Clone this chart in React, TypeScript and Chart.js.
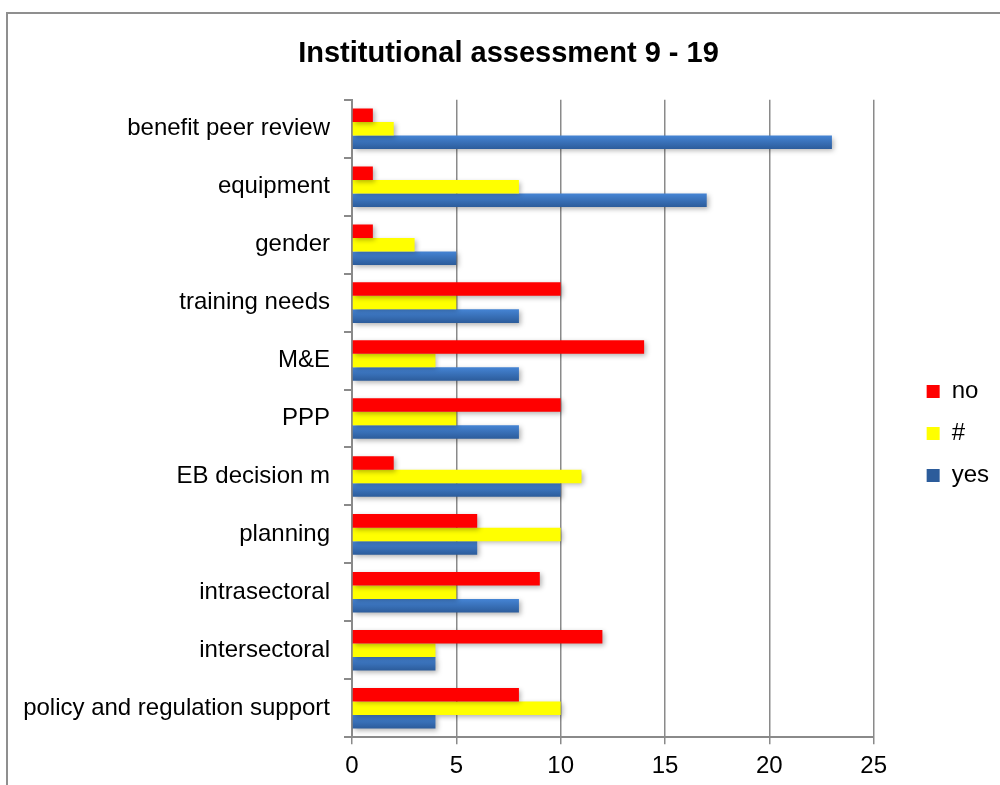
import React, { useEffect, useRef } from 'react';
import { Chart, registerables } from 'chart.js';

Chart.register(...registerables);

const TITLE = 'Institutional assessment 9 - 19';
const CATEGORIES = [
  'benefit peer review',
  'equipment',
  'gender',
  'training needs',
  'M&E',
  'PPP',
  'EB decision m',
  'planning',
  'intrasectoral',
  'intersectoral',
  'policy and regulation support',
];
const SERIES_NAMES = ['no', '#', 'yes'];
const NO_VALUES = [1, 1, 1, 10, 14, 10, 2, 6, 9, 12, 8];
const HASH_VALUES = [2, 8, 3, 5, 4, 5, 11, 10, 5, 4, 10];
const YES_VALUES = [23, 17, 5, 8, 8, 8, 10, 6, 8, 4, 4];
const X_MIN = 0;
const X_MAX = 25;
const X_STEP = 5;

const FONT = "'Liberation Sans', Arial, Helvetica, sans-serif";
const GRID = '#8a8a8a';
const CAT_PCT = 0.7;
const Y_AXIS_WIDTH = 329;
const LEG_EXTRA = 30;
const LEG_DX = 35;
const LEG_DY = 32;

export default function App() {
  const ref = useRef<HTMLCanvasElement>(null);

  useEffect(() => {
    const canvas = ref.current;
    if (!canvas) return;

    const blueFill = (c: any) => {
      const chart = c.chart;
      if (c.type !== 'data' || !chart.chartArea || !chart.scales.y) return '#3a70b8';
      const ys = chart.scales.y;
      const center = ys.getPixelForValue(c.dataIndex);
      const cat = ys.height / CATEGORIES.length;
      const group = cat * CAT_PCT;
      const bh = group / 3;
      const top = center - group / 2 + bh * c.datasetIndex;
      const g = chart.ctx.createLinearGradient(0, top, 0, top + bh);
      g.addColorStop(0, '#4584d4');
      g.addColorStop(1, '#2c5c9b');
      return g;
    };

    const shadowPlugin = {
      id: 'barShadow',
      beforeDatasetsDraw(chart: any) {
        const ctx = chart.ctx;
        ctx.save();
        ctx.shadowColor = 'rgba(0,0,0,0.3)';
        ctx.shadowBlur = 5;
        ctx.shadowOffsetX = 2;
        ctx.shadowOffsetY = 2;
      },
      afterDatasetsDraw(chart: any) {
        chart.ctx.restore();
      },
    };

    const legendPlace = {
      id: 'legendPlace',
      afterInit(chart: any) {
        const lg = chart.legend;
        if (!lg) return;
        const fit0 = lg.fit;
        lg.fit = function () {
          fit0.call(this);
          this.width += LEG_EXTRA;
        };
        const draw0 = lg.draw;
        lg.draw = function (...args: any[]) {
          const c = this.ctx;
          c.save();
          c.translate(LEG_DX, LEG_DY);
          draw0.apply(this, args);
          c.restore();
        };
      },
    };

    const chart = new Chart(canvas, {
      type: 'bar',
      data: {
        labels: CATEGORIES,
        datasets: [
          { label: SERIES_NAMES[0], data: NO_VALUES, backgroundColor: '#ff0000' },
          { label: SERIES_NAMES[1], data: HASH_VALUES, backgroundColor: '#ffff00' },
          { label: SERIES_NAMES[2], data: YES_VALUES, backgroundColor: blueFill as any },
        ],
      },
      options: {
        indexAxis: 'y',
        responsive: false,
        animation: false,
        datasets: {
          bar: { categoryPercentage: CAT_PCT, barPercentage: 1, borderWidth: 0 },
        },
        layout: { padding: { left: 15, right: 0, top: 0, bottom: 5 } },
        plugins: {
          title: {
            display: true,
            text: TITLE,
            color: '#000',
            font: { family: FONT, size: 29, weight: 'bold' },
            padding: { top: 23, bottom: 28 },
          },
          legend: {
            display: true,
            position: 'right',
            labels: {
              boxWidth: 13,
              boxHeight: 13,
              padding: 18,
              color: '#000',
              font: { family: FONT, size: 24 },
            },
          },
          tooltip: { enabled: false },
        },
        scales: {
          x: {
            type: 'linear',
            min: X_MIN,
            max: X_MAX,
            ticks: {
              stepSize: X_STEP,
              color: '#000',
              padding: 8,
              font: { family: FONT, size: 24 },
            },
            grid: {
              color: GRID,
              lineWidth: 1.5,
              drawTicks: true,
              tickLength: 7,
            },
            border: { display: true, color: GRID, width: 2 },
          },
          y: {
            type: 'category',
            afterFit: (scale: any) => {
              scale.width = Y_AXIS_WIDTH;
            },
            ticks: {
              color: '#000',
              padding: 14,
              font: { family: FONT, size: 24 },
            },
            grid: {
              display: true,
              drawOnChartArea: false,
              drawTicks: true,
              tickLength: 8,
              offset: true,
              color: GRID,
              lineWidth: 2,
            },
            border: { display: true, color: GRID, width: 2 },
          },
        },
      },
      plugins: [shadowPlugin, legendPlace],
    });

    return () => chart.destroy();
  }, []);

  return (
    <div style={{ position: 'fixed', inset: 0, overflow: 'hidden', background: '#fff' }}>
      <div
        style={{
          position: 'absolute',
          left: 6,
          top: 12,
          width: 1100,
          height: 900,
          border: '2px solid #8f8f8f',
          boxSizing: 'border-box',
        }}
      >
        <canvas ref={ref} width={986} height={780} style={{ display: 'block', position: 'absolute', left: 0, top: 0 }} />
      </div>
    </div>
  );
}
